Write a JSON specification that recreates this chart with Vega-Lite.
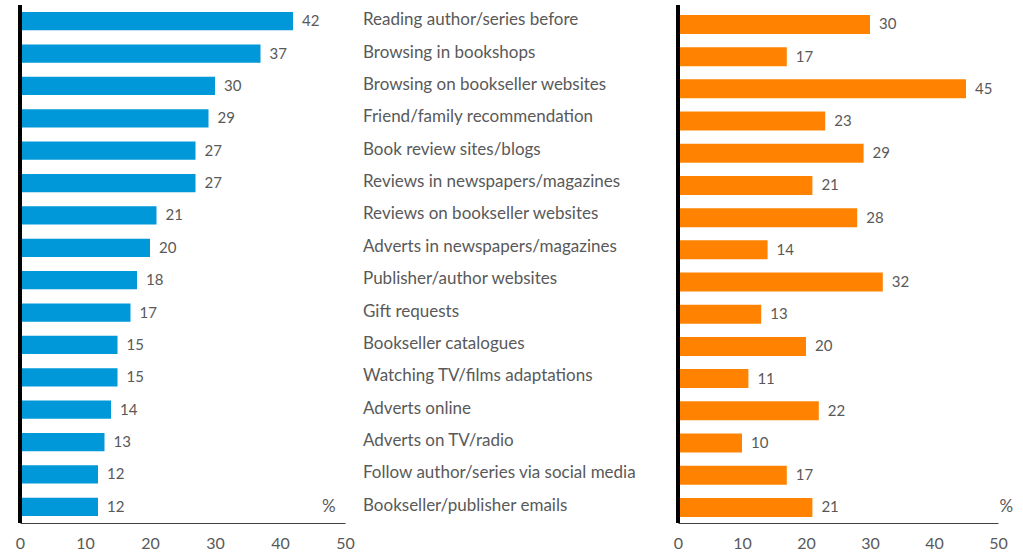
{
  "$schema": "https://vega.github.io/schema/vega-lite/v6.json",
  "padding": {"left": 15, "top": 3, "right": 5, "bottom": 5},
  "background": "white",
  "spacing": 0,
  "bounds": "flush",
  "config": {
    "view": {"stroke": null},
    "font": "Lato",
    "axisX": {
      "domain": true, "domainColor": "#404040", "domainWidth": 1,
      "ticks": false, "grid": false, "labelFlush": false,
      "labelColor": "#595959", "labelFontSize": 16, "labelPadding": 12,
      "labelFont": "Lato", "title": null
    }
  },
  "data": {"values": [
    {"cat": "Reading author/series before", "left": 42, "right": 30},
    {"cat": "Browsing in bookshops", "left": 37, "right": 17},
    {"cat": "Browsing on bookseller websites", "left": 30, "right": 45},
    {"cat": "Friend/family recommendation", "left": 29, "right": 23},
    {"cat": "Book review sites/blogs", "left": 27, "right": 29},
    {"cat": "Reviews in newspapers/magazines", "left": 27, "right": 21},
    {"cat": "Reviews on bookseller websites", "left": 21, "right": 28},
    {"cat": "Adverts in newspapers/magazines", "left": 20, "right": 14},
    {"cat": "Publisher/author websites", "left": 18, "right": 32},
    {"cat": "Gift requests", "left": 17, "right": 13},
    {"cat": "Bookseller catalogues", "left": 15, "right": 20},
    {"cat": "Watching TV/films adaptations", "left": 15, "right": 11},
    {"cat": "Adverts online", "left": 14, "right": 22},
    {"cat": "Adverts on TV/radio", "left": 13, "right": 10},
    {"cat": "Follow author/series via social media", "left": 12, "right": 17},
    {"cat": "Bookseller/publisher emails", "left": 12, "right": 21}
  ]},
  "hconcat": [
    {
      "width": 325, "height": 518,
      "layer": [
        {
          "mark": {"type": "bar", "color": "#0098D8"},
          "encoding": {
            "y": {"field": "cat", "type": "nominal", "sort": null, "axis": null,
                  "scale": {"paddingInner": 0.44, "paddingOuter": 0.22}},
            "x": {"field": "left", "type": "quantitative",
                  "scale": {"domain": [0, 50], "nice": false},
                  "axis": {"values": [0, 10, 20, 30, 40, 50]}}
          }
        },
        {
          "mark": {"type": "text", "align": "left", "baseline": "middle", "dx": 9, "fontSize": 15, "color": "#595959"},
          "encoding": {
            "y": {"field": "cat", "type": "nominal", "sort": null},
            "x": {"field": "left", "type": "quantitative"},
            "text": {"field": "left", "type": "quantitative"}
          }
        },
        {
          "mark": {"type": "rule", "color": "black", "strokeWidth": 3},
          "encoding": {"x": {"datum": 0}}
        },
        {
          "data": {"values": [{"pct": "%", "cat": "Bookseller/publisher emails", "pos": 47.5}]},
          "mark": {"type": "text", "align": "center", "baseline": "middle", "fontSize": 17, "color": "#595959"},
          "encoding": {
            "y": {"field": "cat", "type": "nominal", "sort": null},
            "x": {"field": "pos", "type": "quantitative"},
            "text": {"field": "pct", "type": "nominal"}
          }
        }
      ]
    },
    {
      "width": 333, "height": 518,
      "mark": {"type": "text", "align": "left", "baseline": "middle", "dx": 18, "dy": -1, "fontSize": 17, "color": "#595959"},
      "encoding": {
        "y": {"field": "cat", "type": "nominal", "sort": null, "axis": null,
              "scale": {"paddingInner": 0.44, "paddingOuter": 0.22}},
        "x": {"datum": 0, "scale": {"domain": [0, 1]}, "axis": null},
        "text": {"field": "cat", "type": "nominal"}
      }
    },
    {
      "width": 320, "height": 518,
      "layer": [
        {
          "mark": {"type": "bar", "color": "#FF8300"},
          "encoding": {
            "y": {"field": "cat", "type": "nominal", "sort": null, "axis": null,
                  "scale": {"paddingInner": 0.41, "paddingOuter": 0.25, "align": 0.62}},
            "x": {"field": "right", "type": "quantitative",
                  "scale": {"domain": [0, 50], "nice": false},
                  "axis": {"values": [0, 10, 20, 30, 40, 50]}}
          }
        },
        {
          "mark": {"type": "text", "align": "left", "baseline": "middle", "dx": 9, "fontSize": 15, "color": "#595959"},
          "encoding": {
            "y": {"field": "cat", "type": "nominal", "sort": null},
            "x": {"field": "right", "type": "quantitative"},
            "text": {"field": "right", "type": "quantitative"}
          }
        },
        {
          "mark": {"type": "rule", "color": "black", "strokeWidth": 3},
          "encoding": {"x": {"datum": 0}}
        },
        {
          "data": {"values": [{"pct": "%", "cat": "Bookseller/publisher emails", "pos": 51.3}]},
          "mark": {"type": "text", "align": "center", "baseline": "middle", "fontSize": 17, "color": "#595959"},
          "encoding": {
            "y": {"field": "cat", "type": "nominal", "sort": null},
            "x": {"field": "pos", "type": "quantitative"},
            "text": {"field": "pct", "type": "nominal"}
          }
        }
      ]
    }
  ]
}
